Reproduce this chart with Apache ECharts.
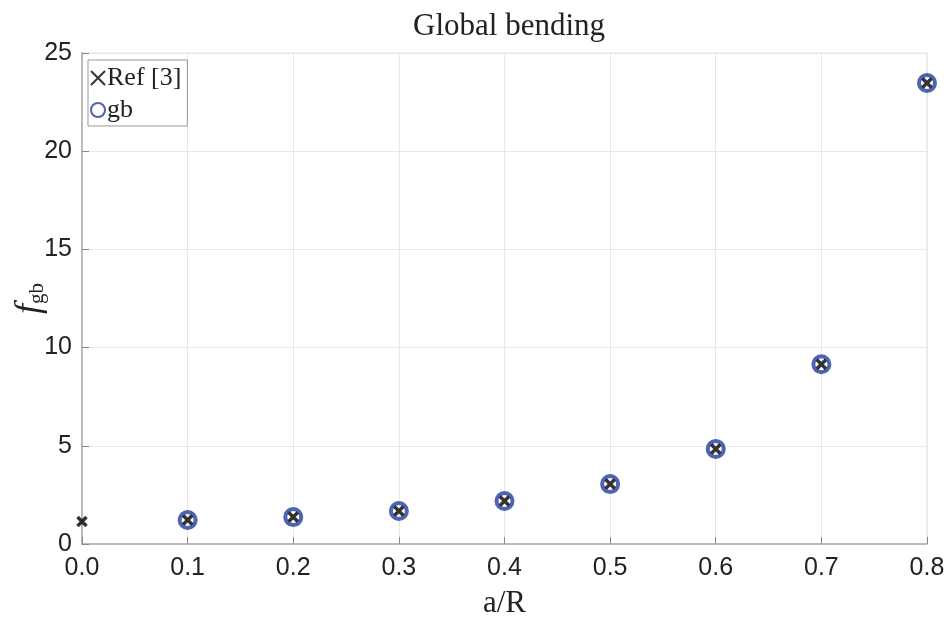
<!DOCTYPE html>
<html>
<head>
<meta charset="utf-8">
<script src="https://cdn.jsdelivr.net/npm/echarts@6/dist/echarts.min.js"></script>
<style>
  html, body { margin: 0; padding: 0; background: #fff; }
  #chart { width: 952px; height: 621px; }
</style>
</head>
<body>
<div id="chart"></div>
<script>
  // a/R values and f_gb values
  var refX = [0.0, 0.1, 0.2, 0.3, 0.4, 0.5, 0.6, 0.7, 0.8];
  var refY = [1.14, 1.22, 1.37, 1.68, 2.19, 3.05, 4.84, 9.15, 23.47];
  var gbX = [0.1, 0.2, 0.3, 0.4, 0.5, 0.6, 0.7, 0.8];
  var gbY = [1.22, 1.37, 1.68, 2.19, 3.05, 4.84, 9.15, 23.47];
  var xTicks = ['0.0', '0.1', '0.2', '0.3', '0.4', '0.5', '0.6', '0.7', '0.8'];

  var serif = '"Liberation Serif", "DejaVu Serif", serif';
  var sans = '"Liberation Sans", Arial, sans-serif';
  var blue = '#223c9e';
  var crossPath = 'path://M0,0L10,10M10,0L0,10';

  function pairs(xs, ys) {
    return xs.map(function (x, i) { return [x, ys[i]]; });
  }

  var chart = echarts.init(document.getElementById('chart'));
  var option = {
    animation: false,
    title: {
      text: 'Global bending',
      left: 504,
      top: 6,
      textAlign: 'center',
      textStyle: { fontFamily: serif, fontWeight: 'normal', fontSize: 31, color: '#222' }
    },
    legend: {
      left: 88,
      top: 60,
      orient: 'vertical',
      backgroundColor: '#fff',
      borderColor: '#999',
      borderWidth: 1,
      borderRadius: 0,
      padding: [5, 6, 3, 2],
      itemGap: 6,
      itemWidth: 18,
      itemHeight: 14,
      textStyle: { fontFamily: serif, fontSize: 26, color: '#222', padding: [0, 0, 0, -5] },
      data: ['Ref [3]', 'gb']
    },
    grid: {
      left: 82, right: 25, top: 53, bottom: 77,
      outerBoundsMode: 'none',
      containLabel: false,
      show: true, borderColor: '#e2e2e2', borderWidth: 1
    },
    xAxis: {
      type: 'value',
      min: 0, max: 0.8, interval: 0.1,
      name: 'a/R',
      nameLocation: 'middle',
      nameGap: 44,
      nameTextStyle: { fontFamily: serif, fontSize: 31, color: '#222' },
      axisLine: { lineStyle: { color: '#aaa', width: 1.5 } },
      axisTick: { inside: true, length: 7, lineStyle: { color: '#888' } },
      axisLabel: {
        fontFamily: sans, fontSize: 25, color: '#222', margin: 12,
        formatter: function (v) { return xTicks[Math.round(v * 10)]; }
      },
      splitLine: { show: true, lineStyle: { color: '#e8e8e8' } }
    },
    yAxis: {
      type: 'value',
      min: 0, max: 25, interval: 5,
      name: '{f|f}{s|gb}',
      nameLocation: 'middle',
      nameGap: 34,
      nameMoveOverlap: false,
      nameTextStyle: {
        rich: {
          f: { fontFamily: serif, fontStyle: 'italic', fontSize: 36, color: '#222' },
          s: { fontFamily: serif, fontSize: 21, color: '#222', padding: [16, 0, 0, 0] }
        }
      },
      axisLine: { show: true, lineStyle: { color: '#aaa', width: 1.5 } },
      axisTick: { show: true, inside: true, length: 7, lineStyle: { color: '#888' } },
      axisLabel: { fontFamily: sans, fontSize: 25, color: '#222', margin: 10 },
      splitLine: { show: true, lineStyle: { color: '#e8e8e8' } }
    },
    series: [{
      name: 'gb',
      type: 'scatter',
      data: pairs(gbX, gbY),
      symbol: 'circle',
      symbolSize: 16,
      itemStyle: { color: '#fff', borderColor: blue, borderWidth: 4 },
      z: 2
    }, {
      name: 'Ref [3]',
      type: 'scatter',
      data: pairs(refX, refY),
      symbol: crossPath,
      symbolSize: 9,
      itemStyle: { color: '#000', borderColor: '#000', borderWidth: 3.5 },
      z: 3
    }]
  };
  chart.setOption(option);
</script>
</body>
</html>
